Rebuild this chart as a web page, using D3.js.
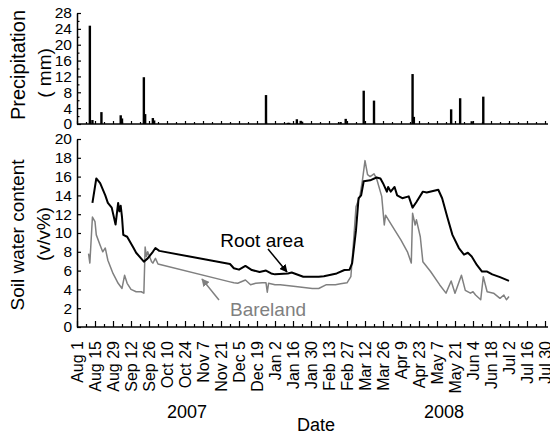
<!DOCTYPE html>
<html><head><meta charset="utf-8">
<script src="https://cdn.jsdelivr.net/npm/d3@7"></script>
<style>
html,body{margin:0;padding:0;background:#fff;}
text{font-family:"Liberation Sans",Arial,sans-serif;}
</style></head>
<body><svg id="c" width="550" height="434"></svg>
<script>
// ---------- data ----------
const precipDates = ["2007-08-11","2007-08-13","2007-08-20","2007-09-04","2007-09-05","2007-09-22","2007-09-23","2007-09-29","2007-09-30","2007-12-26","2008-01-12","2008-01-13","2008-01-19","2008-01-22","2008-01-23","2008-02-22","2008-02-26","2008-03-11","2008-03-19","2008-04-18","2008-04-19","2008-05-18","2008-05-25","2008-06-03","2008-06-12","2008-07-02"];
const precipValues = [24.8,1.0,3.0,2.2,1.4,11.8,2.5,1.5,0.9,7.3,0.3,0.3,1.2,0.8,0.6,0.5,1.3,8.4,5.9,12.6,1.8,3.7,6.5,0.7,6.9,0.2];

const rootDates = ["2007-08-13","2007-08-16","2007-08-19","2007-08-23","2007-08-25","2007-08-28","2007-08-31","2007-09-02","2007-09-03","2007-09-04","2007-09-05","2007-09-06","2007-09-09","2007-09-14","2007-09-16","2007-09-22","2007-09-25","2007-09-29","2007-10-01","2007-10-04","2007-11-28","2007-12-01","2007-12-05","2007-12-10","2007-12-15","2007-12-21","2007-12-26","2007-12-30","2008-01-02","2008-01-12","2008-01-15","2008-01-24","2008-02-05","2008-02-09","2008-02-19","2008-02-25","2008-02-29","2008-03-02","2008-03-05","2008-03-07","2008-03-09","2008-03-11","2008-03-16","2008-03-21","2008-03-24","2008-03-26","2008-03-29","2008-03-30","2008-04-01","2008-04-04","2008-04-06","2008-04-10","2008-04-15","2008-04-18","2008-04-21","2008-04-26","2008-04-29","2008-05-08","2008-05-11","2008-05-15","2008-05-19","2008-05-24","2008-05-28","2008-05-31","2008-06-03","2008-06-07","2008-06-11","2008-06-15","2008-06-19","2008-06-25","2008-07-02"];
const rootValues = [13.2,15.8,15.3,14.0,13.2,12.7,10.9,13.2,12.3,12.9,11.7,9.8,9.6,8.4,7.9,6.95,7.3,8.0,8.4,8.1,6.7,6.25,6.1,6.5,6.06,5.85,6.0,5.7,5.6,5.7,5.8,5.35,5.35,5.4,5.7,6.06,6.1,6.8,10.3,13.7,14.0,15.5,15.6,15.9,15.8,15.3,14.4,14.9,14.4,14.9,14.0,13.7,13.9,12.7,13.3,14.4,14.3,14.6,13.7,11.7,9.8,8.4,7.7,7.9,7.5,6.6,5.9,5.9,5.6,5.3,4.9];

const bareDates = ["2007-08-10","2007-08-11","2007-08-13","2007-08-15","2007-08-16","2007-08-19","2007-08-21","2007-08-23","2007-08-25","2007-08-29","2007-09-02","2007-09-05","2007-09-07","2007-09-09","2007-09-12","2007-09-16","2007-09-20","2007-09-22","2007-09-23","2007-09-24","2007-09-25","2007-09-28","2007-09-29","2007-10-01","2007-10-03","2007-11-28","2007-12-01","2007-12-04","2007-12-10","2007-12-14","2007-12-18","2007-12-23","2007-12-26","2007-12-27","2007-12-28","2008-01-02","2008-01-06","2008-01-18","2008-01-31","2008-02-05","2008-02-11","2008-02-18","2008-02-22","2008-02-27","2008-03-01","2008-03-03","2008-03-05","2008-03-08","2008-03-10","2008-03-12","2008-03-14","2008-03-16","2008-03-19","2008-03-21","2008-03-25","2008-03-27","2008-03-28","2008-04-01","2008-04-09","2008-04-14","2008-04-17","2008-04-18","2008-04-20","2008-04-21","2008-04-24","2008-04-26","2008-05-02","2008-05-09","2008-05-14","2008-05-18","2008-05-21","2008-05-26","2008-05-29","2008-06-02","2008-06-04","2008-06-06","2008-06-10","2008-06-12","2008-06-15","2008-06-20","2008-06-25","2008-06-28","2008-06-30","2008-07-02"];
const bareValues = [7.8,6.8,11.7,11.2,9.8,8.7,8.0,8.4,7.1,5.7,4.65,4.1,5.5,4.65,4.0,3.75,3.75,3.6,8.5,7.5,8.0,6.95,6.8,7.3,6.7,4.8,4.7,4.65,5.0,4.5,4.65,4.7,4.7,3.7,4.65,4.5,4.5,4.3,4.1,4.1,4.5,4.5,4.6,4.7,5.35,8.9,12.8,13.9,15.6,17.7,16.2,16.0,16.3,15.8,13.9,10.85,11.9,11.0,9.25,8.0,6.8,12.1,10.85,11.4,9.6,6.95,5.9,4.5,3.6,4.9,3.6,5.5,3.9,3.6,3.75,3.4,2.9,5.35,3.75,3.6,3.05,3.4,2.9,3.25];

const xTickLabels = ["Aug 1","Aug 15","Aug 29","Sep 12","Sep 26","Oct 10","Oct 24","Nov 7","Nov 21","Dec 5","Dec 19","Jan 2","Jan 16","Jan 30","Feb 13","Feb 27","Mar 12","Mar 26","Apr 9","Apr 23","May 7","May 21","Jun 4","Jun 18","Jul 2","Jul 16","Jul 30"];
const xTickDates = ["2007-08-01","2007-08-15","2007-08-29","2007-09-12","2007-09-26","2007-10-10","2007-10-24","2007-11-07","2007-11-21","2007-12-05","2007-12-19","2008-01-02","2008-01-16","2008-01-30","2008-02-13","2008-02-27","2008-03-12","2008-03-26","2008-04-09","2008-04-23","2008-05-07","2008-05-21","2008-06-04","2008-06-18","2008-07-02","2008-07-16","2008-07-30"];
const precipTicks = [0,4,8,12,16,20,24,28];
const soilTicks = [0,2,4,6,8,10,12,14,16,18,20];

// ---------- drawing ----------
const parse = d3.timeParse("%Y-%m-%d");
const svg = d3.select("#c");
const FONT = "Liberation Sans, Arial, sans-serif";

const x = d3.scaleTime().domain([parse("2007-08-01"), parse("2008-07-30")]).range([77, 545]);
const yP = d3.scaleLinear().domain([0, 28]).range([124, 13]);
const yS = d3.scaleLinear().domain([0, 20]).range([327, 139]);

const majorDates = xTickDates.map(parse);
const minorDates = majorDates.slice(0, -1).map(d => d3.timeDay.offset(d, 7));

function styleAxis(g){
  g.select(".domain").attr("stroke","#000").attr("stroke-width",1.5);
  g.selectAll(".tick line").attr("stroke","#000").attr("stroke-width",1.2);
}

// ---- top panel: precipitation ----
const gPy = svg.append("g").attr("transform","translate(77,0)")
  .call(d3.axisLeft(yP).tickValues(precipTicks).tickSizeInner(-4).tickSizeOuter(0).tickPadding(5));
styleAxis(gPy);
gPy.selectAll("text").attr("font-size",15.5).attr("font-family",FONT).attr("fill","#000");
svg.append("g").attr("transform","translate(77,0)")
  .call(d3.axisLeft(yP).tickValues(d3.range(2,28,4)).tickSize(-2.5).tickFormat(""))
  .call(g=>{g.select(".domain").remove(); g.selectAll("line").attr("stroke","#000").attr("stroke-width",1.2);});

svg.append("g").selectAll("rect").data(precipDates.map((d,i)=>({d:parse(d), v:precipValues[i]})))
  .join("rect")
  .attr("x", d => x(d.d) - 1.2).attr("width", 2.4)
  .attr("y", d => yP(d.v)).attr("height", d => yP(0) - yP(d.v))
  .attr("fill","#000");

const gPx = svg.append("g").attr("transform","translate(0,124)")
  .call(d3.axisBottom(x).tickValues(majorDates).tickSizeInner(-3).tickSizeOuter(0).tickFormat(""));
styleAxis(gPx);
gPx.select(".domain").attr("d","M77,0H548");
svg.append("g").attr("transform","translate(0,124)")
  .call(d3.axisBottom(x).tickValues(minorDates).tickSize(-2).tickFormat(""))
  .call(g=>{g.select(".domain").remove(); g.selectAll("line").attr("stroke","#000").attr("stroke-width",1.2);});

// ---- bottom panel: soil water content ----
const gSy = svg.append("g").attr("transform","translate(77,0)")
  .call(d3.axisLeft(yS).tickValues(soilTicks).tickSizeInner(-4).tickSizeOuter(0).tickPadding(5));
styleAxis(gSy);
gSy.selectAll("text").attr("font-size",15.5).attr("font-family",FONT).attr("fill","#000");

const gSx = svg.append("g").attr("transform","translate(0,327)")
  .call(d3.axisBottom(x).tickValues(majorDates).tickSizeInner(-6).tickSizeOuter(0)
    .tickFormat((d,i)=>xTickLabels[i]));
styleAxis(gSx);
gSx.select(".domain").attr("d","M77,0H548");
gSx.selectAll("text")
  .attr("font-size",16).attr("font-family",FONT).attr("fill","#000")
  .attr("transform","rotate(-90)")
  .attr("x",-14).attr("y",0).attr("dy","0.35em")
  .style("text-anchor","end");
svg.append("g").attr("transform","translate(0,327)")
  .call(d3.axisBottom(x).tickValues(minorDates).tickSize(-3).tickFormat(""))
  .call(g=>{g.select(".domain").remove(); g.selectAll("line").attr("stroke","#000").attr("stroke-width",1.2);});

const line = d3.line().x(d=>x(d.d)).y(d=>yS(d.v));
const bare = bareDates.map((d,i)=>({d:parse(d), v:bareValues[i]}));
const root = rootDates.map((d,i)=>({d:parse(d), v:rootValues[i]}));
svg.append("path").datum(bare).attr("d",line).attr("fill","none").attr("stroke","#808080").attr("stroke-width",1.5).attr("stroke-linejoin","round");
svg.append("path").datum(root).attr("d",line).attr("fill","none").attr("stroke","#000").attr("stroke-width",2).attr("stroke-linejoin","round");

// ---- annotations ----
const defs = svg.append("defs");
function marker(id,color){
  defs.append("marker").attr("id",id).attr("viewBox","0 0 10 10").attr("refX",9).attr("refY",5)
    .attr("markerWidth",8).attr("markerHeight",8).attr("markerUnits","userSpaceOnUse").attr("orient","auto")
    .append("path").attr("d","M0,0 L10,5 L0,10 z").attr("fill",color);
}
marker("ab","#000"); marker("ag","#808080");

svg.append("text").attr("x",262).attr("y",240).attr("dy","0.35em").attr("text-anchor","middle")
  .attr("font-size",19).attr("font-family",FONT).text("Root area");
svg.append("line").attr("x1",268).attr("y1",249).attr("x2",287).attr("y2",272)
  .attr("stroke","#000").attr("stroke-width",1.5).attr("marker-end","url(#ab)");

svg.append("text").attr("x",268).attr("y",309).attr("dy","0.35em").attr("text-anchor","middle")
  .attr("font-size",19).attr("font-family",FONT).attr("fill","#808080").text("Bareland");
svg.append("line").attr("x1",219).attr("y1",300).attr("x2",202).attr("y2",279)
  .attr("stroke","#808080").attr("stroke-width",1.5).attr("marker-end","url(#ag)");

// ---- axis titles ----
function vtext(cx, cy, str, size){
  svg.append("text").attr("transform",`translate(${cx},${cy}) rotate(-90)`)
    .attr("text-anchor","middle").attr("dy","0.35em")
    .attr("font-size",size).attr("font-family",FONT).text(str);
}
vtext(18, 65, "Precipitation", 20);
vtext(44, 73, "(  mm)", 19);
vtext(17, 235, "Soil water content", 19);
vtext(43, 234, "(v/v%)", 19);

svg.append("text").attr("x",187).attr("y",412).attr("dy","0.35em").attr("text-anchor","middle")
  .attr("font-size",18).attr("font-family",FONT).text("2007");
svg.append("text").attr("x",444).attr("y",412).attr("dy","0.35em").attr("text-anchor","middle")
  .attr("font-size",18).attr("font-family",FONT).text("2008");
svg.append("text").attr("x",316).attr("y",425).attr("dy","0.35em").attr("text-anchor","middle")
  .attr("font-size",18).attr("font-family",FONT).text("Date");
</script>
</body></html>
